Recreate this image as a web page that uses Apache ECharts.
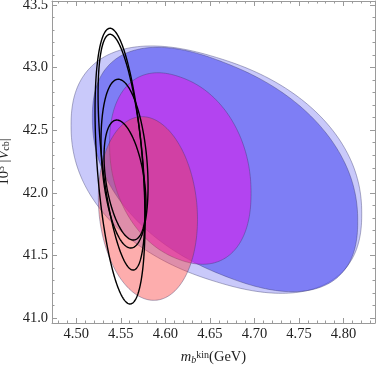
<!DOCTYPE html>
<html>
<head>
<meta charset="utf-8">
<script src="https://cdn.jsdelivr.net/npm/echarts@6/dist/echarts.min.js"></script>
<style>
  html, body { margin: 0; padding: 0; background: #fff; }
  #chart { width: 376px; height: 366px; }
</style>
</head>
<body>
<div id="chart"></div>
<script>
// each region: [x min, x max, y min, y max, x at its top]
const regionNames = ["wide", "blue", "magenta", "red"];
const regionBounds = [
  [4.4942, 4.8204, 41.197, 43.173, 4.5974],
  [4.5181, 4.8159, 41.210, 43.162, 4.6019],
  [4.5374, 4.6962, 41.429, 42.959, 4.5960],
  [4.5248, 4.6361, 41.141, 42.608, 4.5739]
];
const regionColors = [
  "rgba(100,100,240,0.35)",
  "rgba(75,75,241,0.6)",
  "rgba(215,30,237,0.6)",
  "rgba(250,60,60,0.42)"
];
// <1 makes the outline squarer than an ellipse
const regionRoundness = [0.88, 0.88, 0.92, 1];
const contourBounds = [
  [4.5211, 4.5772, 41.112, 43.314, 4.5379],
  [4.5245, 4.5772, 41.383, 43.266, 4.5379],
  [4.5278, 4.5806, 41.559, 42.907, 4.5472],
  [4.5312, 4.5783, 41.623, 42.581, 4.5455]
];
const xMajorTicks = [4.50, 4.55, 4.60, 4.65, 4.70, 4.75, 4.80];
const yMajorTicks = [41.0, 41.5, 42.0, 42.5, 43.0, 43.5];

const xMin = 4.4728, xMax = 4.8353;
const yMin = 40.960, yMax = 43.532;

const xMinorTicks = [];
for (let i = 448; i <= 483; i++) if (i % 5) xMinorTicks.push(i / 100);
const yMinorTicks = [];
for (let i = 410; i <= 435; i++) if (i % 5) yMinorTicks.push(i / 10);

const frameColor = "#9a9a9a";
const font = "Liberation Serif";

const pw = (c, p) => Math.sign(c) * Math.pow(Math.abs(c), p);

// tilted (super)ellipse from its bounding box and the x of its highest point
function ellipse(params, api, p, style) {
  const x0 = api.value(0), x1 = api.value(1), y0 = api.value(2), y1 = api.value(3), xt = api.value(4);
  const cx = (x0 + x1) / 2, sx = (x1 - x0) / 2;
  const cy = (y0 + y1) / 2, sy = (y1 - y0) / 2;
  const rho = (xt - cx) / sx, k = Math.sqrt(1 - rho * rho);
  const n = 240, unit = [];
  let wMax = 0;
  for (let i = 0; i < n; i++) {
    const t = (i / n) * Math.PI * 2;
    const u = pw(Math.cos(t), p), w = rho * u + k * pw(Math.sin(t), p);
    wMax = Math.max(wMax, Math.abs(w));
    unit.push([u, w]);
  }
  const pts = unit.map(([u, w]) => api.coord([cx + sx * u, cy + sy * w / wMax]));
  return { type: "polygon", shape: { points: pts }, style: style };
}

function axisX(pos, ticks, len, main) {
  return {
    type: "value", position: pos, min: xMin, max: xMax,
    axisLine: { show: main, onZero: false, lineStyle: { color: frameColor, width: 1 } },
    axisTick: { show: true, inside: true, length: len, customValues: ticks, lineStyle: { color: frameColor } },
    axisLabel: {
      show: main && pos === "bottom" && len > 3, customValues: ticks,
      formatter: v => v.toFixed(2), margin: 4, color: "#222", fontFamily: font, fontSize: 14.5
    },
    splitLine: { show: false }
  };
}
function axisY(pos, ticks, len, main) {
  return {
    type: "value", position: pos, min: yMin, max: yMax,
    axisLine: { show: main, onZero: false, lineStyle: { color: frameColor, width: 1 } },
    axisTick: { show: true, inside: true, length: len, customValues: ticks, lineStyle: { color: frameColor } },
    axisLabel: {
      show: main && pos === "left" && len > 3, customValues: ticks,
      formatter: v => v.toFixed(1), margin: 4, color: "#222", fontFamily: font, fontSize: 14.5
    },
    splitLine: { show: false }
  };
}

const xAxes = [
  axisX("bottom", xMajorTicks, 5, true),
  axisX("bottom", xMinorTicks, 2.5, false),
  axisX("top", xMajorTicks, 5, true),
  axisX("top", xMinorTicks, 2.5, false)
];
const yAxes = [
  axisY("left", yMajorTicks, 5, true),
  axisY("left", yMinorTicks, 2.5, false),
  axisY("right", yMajorTicks, 5, true),
  axisY("right", yMinorTicks, 2.5, false)
];

const nameRich = {
  n: { fontFamily: font, fontSize: 14.5, color: "#222", lineHeight: 15, verticalAlign: "middle" },
  i: { fontFamily: font, fontSize: 14.5, color: "#222", fontStyle: "italic", lineHeight: 15, verticalAlign: "middle" },
  sup: { fontFamily: font, fontSize: 10, color: "#222", lineHeight: 10, verticalAlign: "top" },
  sub: { fontFamily: font, fontSize: 10, color: "#222", lineHeight: 10, verticalAlign: "bottom" },
  subi: { fontFamily: font, fontSize: 10, color: "#222", fontStyle: "italic", lineHeight: 10, verticalAlign: "bottom" }
};
Object.assign(xAxes[0], {
  name: "{i|m}{subi|b}{sup|kin}{n|(GeV)}",
  nameLocation: "middle", nameGap: 27,
  nameTextStyle: { rich: nameRich }
});
Object.assign(yAxes[0], {
  name: "{n|10}{sup|3}{n| |}{i|V}{sub|cb}{n||}",
  nameLocation: "middle", nameGap: 29,
  nameTextStyle: { rich: nameRich }
});

const chart = echarts.init(document.getElementById("chart"), null, { renderer: "canvas" });
chart.setOption({
  animation: false,
  grid: { left: 52, top: 1, width: 323, height: 322, containLabel: false, outerBoundsMode: "none" },
  xAxis: xAxes,
  yAxis: yAxes,
  series: [
    {
      type: "custom", name: "regions", clip: true,
      data: regionBounds,
      renderItem: (params, api) => ellipse(params, api, regionRoundness[params.dataIndex], {
        fill: regionColors[params.dataIndex],
        stroke: "rgba(60,60,110,0.5)", lineWidth: 0.8
      })
    },
    {
      type: "custom", name: "contours", clip: true,
      data: contourBounds,
      renderItem: (params, api) => ellipse(params, api, 1, {
        fill: "none", stroke: "#000", lineWidth: 1.4
      })
    }
  ]
});
</script>
</body>
</html>
